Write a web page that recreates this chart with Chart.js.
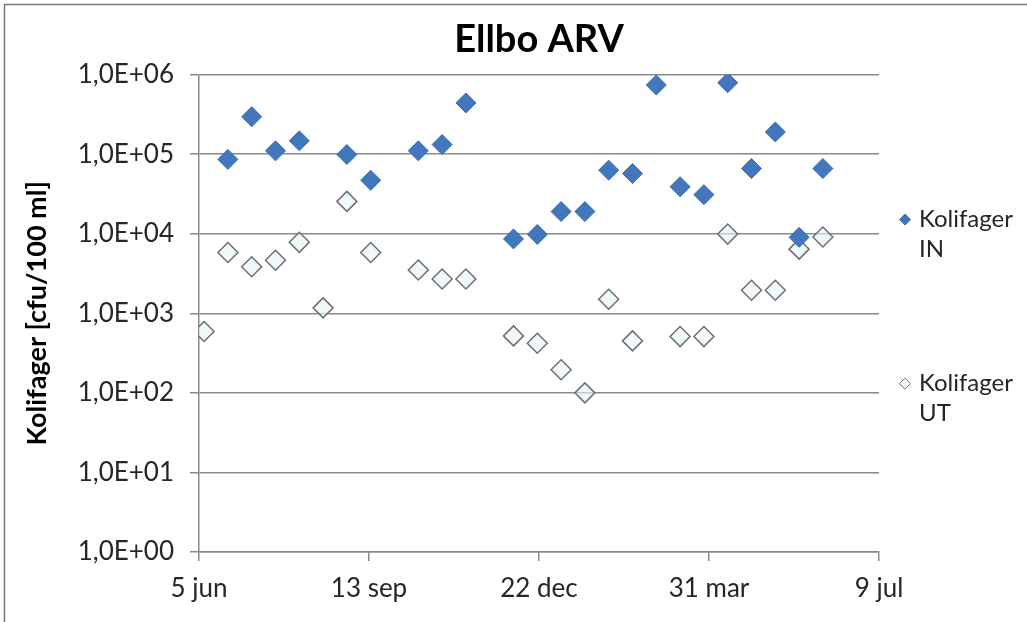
<!DOCTYPE html>
<html>
<head>
<meta charset="utf-8">
<script src="https://cdn.jsdelivr.net/npm/chart.js@4.4.0/dist/chart.umd.min.js"></script>
<style>
  html, body { margin: 0; padding: 0; background: #fff; }
  canvas { display: block; }
</style>
</head>
<body>
<canvas id="chart" width="1027" height="622"></canvas>
<script>
// provdatum
const sampleDates = [
  '2011-06-08', '2011-06-22', '2011-07-06', '2011-07-20', '2011-08-03',
  '2011-08-17', '2011-08-31', '2011-09-14', '2011-10-12', '2011-10-26',
  '2011-11-09', '2011-12-07', '2011-12-21', '2012-01-04', '2012-01-18',
  '2012-02-01', '2012-02-15', '2012-02-29', '2012-03-14', '2012-03-28',
  '2012-04-11', '2012-04-25', '2012-05-09', '2012-05-23', '2012-06-06'
];
// Kolifager IN / UT (cfu/100 ml)
const kolifagerIn = [
  null, 86000, 295000, 110000, 147000,
  null, 99000, 47000, 110000, 132000,
  440000, 8600, 9800, 19000, 19000,
  63000, 57000, 740000, 39000, 31000,
  790000, 66000, 190000, 9000, 66000
];
const kolifagerUt = [
  590, 5800, 3850, 4650, 7800,
  1170, 25500, 5800, 3500, 2700,
  2700, 520, 420, 195, 100,
  1500, 450, null, 510, 510,
  9900, 1950, 1950, 6400, 9100
];
const seriesNames = [['Kolifager', 'IN'], ['Kolifager', 'UT']];

const xTickDays = [0, 100, 200, 300, 400];
const xTickLabels = ['5 jun', '13 sep', '22 dec', '31 mar', '9 jul'];
const yTickValues = [1, 10, 100, 1000, 10000, 100000, 1000000];
const yTickLabels = ['1,0E+00', '1,0E+01', '1,0E+02', '1,0E+03', '1,0E+04', '1,0E+05', '1,0E+06'];

const start = Date.UTC(2011, 5, 5);
const dayOf = s => (Date.parse(s) - start) / 86400000;
const toPoints = vals => sampleDates
  .map((d, i) => ({ x: dayOf(d), y: vals[i] }))
  .filter(p => p.y != null);

const FONT = 'Lato';
const GRID = '#8a8a8a';

const frame = {
  id: 'frame',
  beforeDraw(chart) {
    const ctx = chart.ctx;
    ctx.save();
    ctx.fillStyle = '#fff';
    ctx.fillRect(0, 0, chart.width, chart.height);
    ctx.strokeStyle = '#777';
    ctx.lineWidth = 1.5;
    ctx.strokeRect(4.5, 4.5, 1200, 800);
    ctx.restore();
  }
};

// legend med radbrytning till höger
const sideLegend = {
  id: 'sideLegend',
  afterDraw(chart) {
    const ctx = chart.ctx, a = chart.chartArea;
    const x = a.right + 26;
    const rows = [a.top + 145, a.top + 309];
    chart.data.datasets.forEach((ds, i) => {
      const y = rows[i];
      const r = 5.5;
      ctx.save();
      ctx.beginPath();
      ctx.moveTo(x - r, y);
      ctx.lineTo(x, y - r);
      ctx.lineTo(x + r, y);
      ctx.lineTo(x, y + r);
      ctx.closePath();
      ctx.fillStyle = ds.backgroundColor;
      ctx.fill();
      ctx.lineWidth = 1;
      ctx.strokeStyle = ds.borderColor;
      ctx.stroke();
      ctx.fillStyle = '#262626';
      ctx.font = '24px ' + FONT;
      ctx.textBaseline = 'middle';
      ctx.textAlign = 'left';
      seriesNames[i].forEach((t, j) => ctx.fillText(t, x + 14, y + j * 30));
      ctx.restore();
    });
  }
};

new Chart(document.getElementById('chart'), {
  type: 'scatter',
  data: {
    datasets: [
      {
        label: 'Kolifager IN',
        data: toPoints(kolifagerIn),
        pointStyle: 'rectRot',
        pointRadius: 10,
        backgroundColor: '#4277bd',
        borderColor: '#3a6db0',
        borderWidth: 1,
      },
      {
        label: 'Kolifager UT',
        data: toPoints(kolifagerUt),
        pointStyle: 'rectRot',
        pointRadius: 10,
        backgroundColor: 'rgba(228, 243, 249, 0.6)',
        borderColor: '#6f6f6f',
        borderWidth: 1.5,
      }
    ]
  },
  options: {
    responsive: false,
    animation: false,
    events: [],
    layout: { padding: { left: 0, right: 148, top: 0, bottom: 0 } },
    plugins: {
      legend: { display: false },
      tooltip: { enabled: false },
      title: {
        display: true,
        text: 'Ellbo ARV',
        fullSize: false,
        color: '#000',
        font: { family: FONT, size: 38, weight: 'bold' },
        padding: { top: 17, bottom: 12 }
      }
    },
    scales: {
      x: {
        type: 'linear',
        min: 0,
        max: 400,
        afterFit: s => { s.height = 70; },
        afterBuildTicks: s => { s.ticks = xTickDays.map(v => ({ value: v })); },
        ticks: {
          autoSkip: false,
          maxRotation: 0,
          padding: 12,
          color: '#262626',
          font: { family: FONT, size: 26 },
          callback: (v, i) => xTickLabels[i]
        },
        grid: { drawOnChartArea: false, drawTicks: true, tickLength: 9, color: GRID, lineWidth: 1.5 },
        border: { display: true, color: GRID, width: 1.5 }
      },
      y: {
        type: 'logarithmic',
        min: 1,
        max: 1000000,
        afterFit: s => { s.width = 199; },
        afterBuildTicks: s => { s.ticks = yTickValues.map(v => ({ value: v })); },
        ticks: {
          autoSkip: false,
          padding: 16,
          color: '#262626',
          font: { family: FONT, size: 26 },
          callback: (v, i) => yTickLabels[i]
        },
        grid: { color: GRID, lineWidth: 1.5, tickLength: 9 },
        border: { display: true, color: GRID, width: 1.5 },
        title: {
          display: true,
          text: 'Kolifager [cfu/100 ml]',
          color: '#000',
          font: { family: FONT, size: 27, weight: 'bold' },
          padding: { top: 21, bottom: 0 }
        }
      }
    }
  },
  plugins: [frame, sideLegend]
});
</script>
</body>
</html>
